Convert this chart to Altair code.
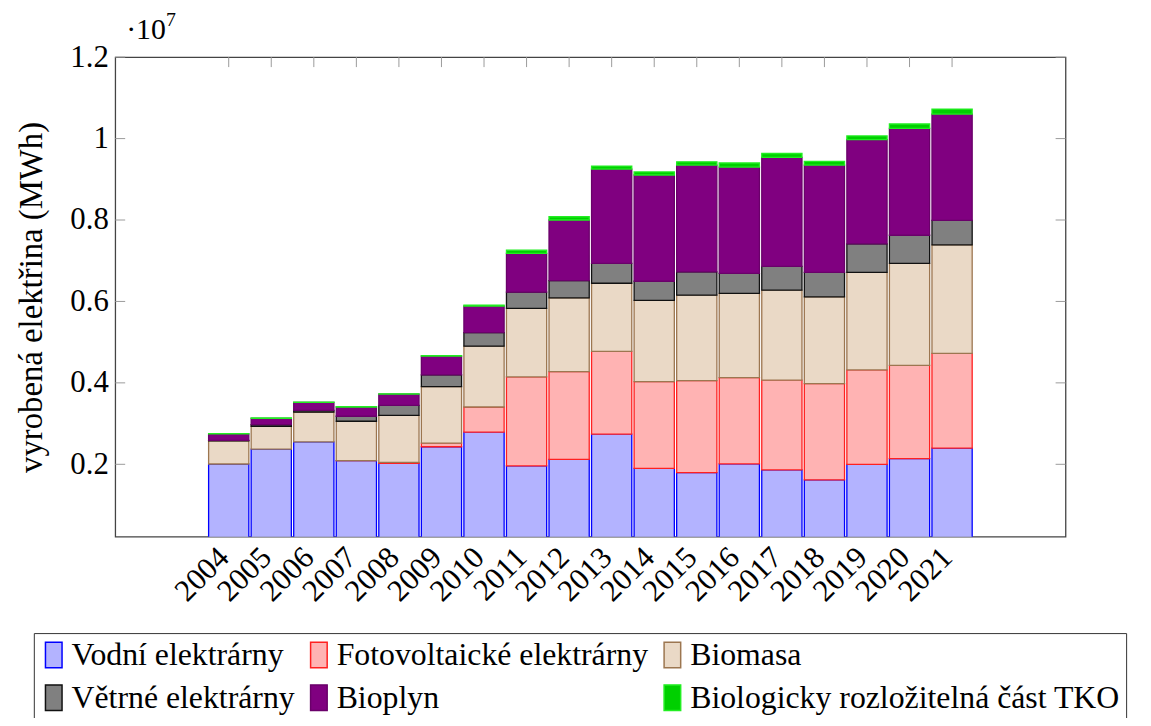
import altair as alt
import pandas as pd

years = list(range(2004, 2022))
series = ["Vodní elektrárny", "Fotovoltaické elektrárny", "Biomasa",
          "Větrné elektrárny", "Bioplyn", "Biologicky rozložitelná část TKO"]
fills = ["#b3b3ff", "#ffb3b3", "#ead9c6", "#808080", "#800080", "#00d000"]
strokes = ["#0000ff", "#ff2020", "#9c7650", "#111111", "#6a006a", "#22ee22"]

vodni = [2007000, 2374000, 2553000, 2090000, 2024000, 2431000, 2789000, 1959000, 2122000,
         2740000, 1900000, 1797000, 2008000, 1862000, 1618000, 2000000, 2138000, 2398000]
foto = [0, 0, 0, 2000, 25000, 89000, 618000, 2187000, 2154000,
        2032000, 2133000, 2260000, 2122000, 2203000, 2366000, 2317000, 2293000, 2326000]
biomasa = [571000, 561000, 732000, 965000, 1154000, 1390000, 1495000, 1683000, 1814000,
           1675000, 1991000, 2098000, 2070000, 2212000, 2130000, 2399000, 2504000, 2666000]
vetrne = [12000, 41000, 40000, 123000, 244000, 285000, 334000, 399000, 420000,
          488000, 472000, 569000, 490000, 585000, 602000, 699000, 691000, 602000]
bioplyn = [158000, 154000, 195000, 227000, 277000, 464000, 650000, 951000, 1490000,
           2317000, 2610000, 2626000, 2610000, 2675000, 2634000, 2561000, 2626000, 2610000]
tko = [7000, 7000, 7000, 8000, 8000, 8000, 24000, 81000, 80000,
       73000, 74000, 80000, 100000, 97000, 90000, 89000, 106000, 122000]

y_ticks = [2000000, 4000000, 6000000, 8000000, 10000000, 12000000]

FONT = "Liberation Serif"
FS = 31
LFS = 32
W, H = 957, 483

rows = []
for idx, (name, vals) in enumerate(zip(series, [vodni, foto, biomasa, vetrne, bioplyn, tko])):
    for yr, v in zip(years, vals):
        rows.append({"rok": yr, "zdroj": name, "hodnota": v, "poradi": idx})
df = pd.DataFrame(rows)

x_scale = alt.Scale(domain=[2001.45, 2023.55], nice=False, zero=False)
y_scale = alt.Scale(domain=[220000, 12000000], nice=False, zero=False)

legend = alt.Legend(
    title=None, orient="none", legendX=-82, legendY=580, columns=3, direction="horizontal",
    symbolType="M-0.8,-1H0.5V1H-0.8Z", symbolSize=660, symbolStrokeWidth=1.5,
    labelFont=FONT, labelFontSize=LFS, labelColor="black", labelLimit=1000,
    labelOffset=0, columnPadding=10, rowPadding=11, padding=6,
    strokeColor="#333333", fillColor="white",
)

bars = alt.Chart(df).transform_filter("datum.hodnota > 0").mark_bar(
    size=40.5, strokeWidth=1.3, clip=True
).encode(
    x=alt.X("rok:Q", scale=x_scale,
            axis=alt.Axis(values=years, format="d", labelAngle=-45, labelAlign="right",
                          labelBaseline="middle", labelPadding=16, labelOffset=-5, ticks=False,
                          domain=False, grid=False, labelFont=FONT, labelFontSize=FS,
                          labelColor="black", labelFlush=False, labelOverlap=False, title=None)),
    y=alt.Y("hodnota:Q", stack="zero", scale=y_scale,
            axis=alt.Axis(values=y_ticks, ticks=False, domain=False, grid=False,
                          labelExpr="datum.value == 10000000 ? '1' : format(datum.value / 10000000, '.1f')",
                          labelFont=FONT, labelFontSize=FS, labelColor="black", labelPadding=7,
                          title="vyrobená elektřina (MWh)", titleFont=FONT, titleFontSize=33,
                          titleFontWeight="normal", titleColor="black", titlePadding=22)),
    fill=alt.Fill("zdroj:N", scale=alt.Scale(domain=series, range=fills), legend=legend),
    stroke=alt.Stroke("zdroj:N", scale=alt.Scale(domain=series, range=strokes), legend=legend),
    order=alt.Order("poradi:Q"),
)

ytick_df = pd.DataFrame({"v": y_ticks})
left_ticks = alt.Chart(ytick_df).mark_rule(color="#9a9a9a", strokeWidth=1).encode(
    y=alt.Y("v:Q", scale=y_scale), x=alt.value(0), x2=alt.value(10))
right_ticks = alt.Chart(ytick_df).mark_rule(color="#9a9a9a", strokeWidth=1).encode(
    y=alt.Y("v:Q", scale=y_scale), x=alt.value(W - 10), x2=alt.value(W))
xtick_df = pd.DataFrame({"r": years})
top_ticks = alt.Chart(xtick_df).mark_rule(color="#9a9a9a", strokeWidth=1).encode(
    x=alt.X("r:Q", scale=x_scale), y=alt.value(0), y2=alt.value(10))

mult = alt.Chart(pd.DataFrame({"t": ["·10"]})).mark_text(
    font=FONT, fontSize=30, align="left", baseline="alphabetic", color="black"
).encode(text="t:N", x=alt.value(11), y=alt.value(-18))
expo = alt.Chart(pd.DataFrame({"t": ["7"]})).mark_text(
    font=FONT, fontSize=20, align="left", baseline="alphabetic", color="black"
).encode(text="t:N", x=alt.value(51), y=alt.value(-31))

chart = alt.layer(bars, left_ticks, right_ticks, top_ticks, mult, expo).properties(
    width=W, height=H,
    background="white",
    autosize=alt.AutoSizeParams(type="none"),
    padding={"left": 108, "top": 47, "right": 78, "bottom": 180},
).configure_view(stroke="#444444", strokeWidth=1.3)

chart.save("out.html", embed_options={"renderer": "svg", "actions": False})
